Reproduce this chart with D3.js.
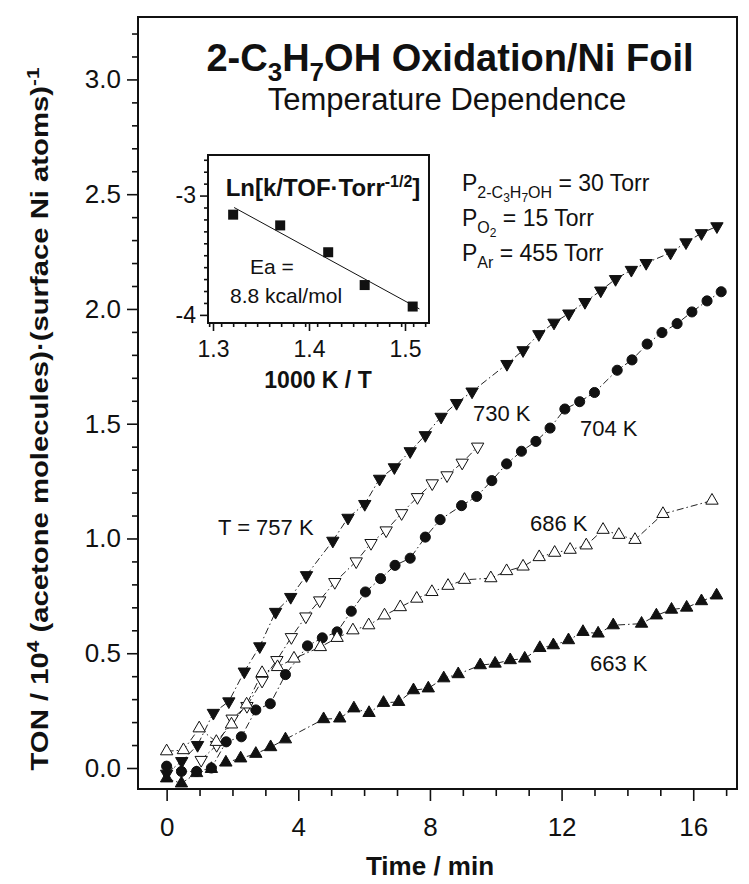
<!DOCTYPE html>
<html lang="en">
<head>
<meta charset="UTF-8">
<title>2-C3H7OH Oxidation / Ni Foil</title>
<script src="https://d3js.org/d3.v7.min.js"></script>
<style>
  body { margin: 0; background: #fff; }
  svg text { font-family: "Liberation Sans", Arial, Helvetica, sans-serif; fill: #111; }
</style>
</head>
<body>
<svg id="chart" width="749" height="884"></svg>
<script>
// ---- main panel data: time (min) and TON / 10^4 ----
const t757 = [0, 0.46, 0.94, 1.42, 1.89, 2.36, 2.83, 3.31, 3.77, 4.25, 5.05, 5.51, 6.02, 6.47, 6.92, 7.40, 7.86, 8.34, 8.81, 9.28, 10.34, 10.83, 11.31, 11.77, 12.22, 12.71, 13.19, 13.64, 14.12, 14.57, 15.31, 15.78, 16.25, 16.72];
const v757 = [-0.025, 0.03, 0.10, 0.24, 0.29, 0.42, 0.53, 0.68, 0.745, 0.84, 0.99, 1.09, 1.15, 1.26, 1.31, 1.38, 1.45, 1.53, 1.59, 1.64, 1.76, 1.82, 1.89, 1.94, 1.98, 2.03, 2.08, 2.13, 2.17, 2.20, 2.245, 2.29, 2.33, 2.36];

const t730 = [1.05, 1.52, 1.99, 2.44, 2.90, 3.35, 3.79, 4.23, 4.65, 5.11, 5.76, 6.21, 6.67, 7.14, 7.62, 8.07, 8.52, 8.98, 9.45];
const v730 = [0.035, 0.10, 0.215, 0.27, 0.38, 0.47, 0.57, 0.66, 0.73, 0.81, 0.90, 0.98, 1.035, 1.11, 1.18, 1.24, 1.275, 1.33, 1.40];

const t704 = [0, 0.45, 0.91, 1.36, 1.81, 2.27, 2.71, 3.15, 3.61, 4.28, 4.73, 5.18, 5.61, 6.04, 6.50, 6.94, 7.40, 7.86, 8.31, 8.96, 9.42, 9.88, 10.33, 10.78, 11.22, 11.65, 12.10, 12.55, 13.00, 13.69, 14.14, 14.60, 15.05, 15.51, 15.96, 16.42, 16.85];
const v704 = [0.008, -0.015, -0.015, 0.0, 0.114, 0.136, 0.253, 0.28, 0.407, 0.532, 0.567, 0.593, 0.683, 0.767, 0.825, 0.883, 0.914, 1.006, 1.082, 1.143, 1.183, 1.252, 1.325, 1.38, 1.423, 1.481, 1.564, 1.596, 1.636, 1.733, 1.778, 1.847, 1.897, 1.936, 1.987, 2.035, 2.075];

const t686 = [0, 0.51, 0.99, 1.51, 1.97, 2.43, 2.90, 3.37, 3.87, 4.67, 5.18, 5.66, 6.14, 6.62, 7.10, 7.60, 8.06, 8.55, 9.05, 9.85, 10.33, 10.83, 11.32, 11.79, 12.26, 12.75, 13.26, 13.74, 14.23, 15.08, 16.57];
const v686 = [0.073, 0.078, 0.173, 0.114, 0.19, 0.277, 0.414, 0.44, 0.477, 0.527, 0.567, 0.60, 0.622, 0.665, 0.701, 0.738, 0.767, 0.794, 0.82, 0.827, 0.858, 0.878, 0.919, 0.938, 0.951, 0.97, 1.038, 1.016, 0.994, 1.107, 1.165];

const t663 = [0, 0.45, 0.91, 1.36, 1.80, 2.25, 2.71, 3.16, 3.61, 4.77, 5.26, 5.69, 6.15, 6.59, 7.05, 7.50, 7.95, 8.42, 8.86, 9.53, 9.98, 10.44, 10.88, 11.34, 11.75, 12.21, 12.65, 13.11, 13.57, 14.43, 14.88, 15.34, 15.80, 16.25, 16.71];
const v663 = [-0.045, -0.067, -0.022, -0.004, 0.024, 0.042, 0.062, 0.091, 0.125, 0.213, 0.216, 0.26, 0.24, 0.284, 0.288, 0.339, 0.347, 0.391, 0.409, 0.448, 0.455, 0.47, 0.477, 0.523, 0.535, 0.557, 0.593, 0.586, 0.622, 0.629, 0.665, 0.69, 0.699, 0.727, 0.752];

// ---- inset (Arrhenius plot) data ----
const invT = [1.321, 1.370, 1.420, 1.458, 1.508];
const lnK = [-3.16, -3.25, -3.475, -3.75, -3.93];
const fitX = [1.322, 1.515];
const fitY = [-3.10, -3.95];

const xMajor = [0, 4, 8, 12, 16];
const yMajor = [0, 0.5, 1.0, 1.5, 2.0, 2.5, 3.0];
const insetXMajor = [1.3, 1.4, 1.5];
const insetYMajor = [-3, -4];

const svg = d3.select('#chart');
svg.append('rect').attr('width', 749).attr('height', 884).attr('fill', '#fff');

const x = d3.scaleLinear().domain([-0.87, 17.33]).range([138, 737]);
const y = d3.scaleLinear().domain([-0.0915, 3.272]).range([789, 17]);

// minor ticks
const xMinor = d3.range(0, 18, 1).filter(d => xMajor.indexOf(d) < 0);
const yMinor = d3.range(-1, 33, 1).map(d => d / 10).filter(d => Math.abs(d * 2 - Math.round(d * 2)) > 0.01 && d < 3.27 && d > -0.09);

function styleAxis(g) {
  g.select('.domain').remove();
  g.selectAll('.tick line').attr('stroke', '#111').attr('stroke-width', 1.6);
}

svg.append('g').attr('transform', 'translate(0,789)')
  .call(d3.axisBottom(x).tickValues(xMinor).tickSize(7).tickFormat(''))
  .call(styleAxis);
svg.append('g').attr('transform', 'translate(0,789)')
  .call(d3.axisBottom(x).tickValues(xMajor).tickSize(12).tickPadding(17).tickFormat(d3.format('d')))
  .call(styleAxis)
  .selectAll('text').attr('font-size', 26).attr('fill', '#111');

svg.append('g').attr('transform', 'translate(138,0)')
  .call(d3.axisLeft(y).tickValues(yMinor).tickSize(6).tickFormat(''))
  .call(styleAxis);
svg.append('g').attr('transform', 'translate(138,0)')
  .call(d3.axisLeft(y).tickValues(yMajor).tickSize(11).tickPadding(6).tickFormat(d3.format('.1f')))
  .call(styleAxis)
  .selectAll('text').attr('font-size', 26).attr('fill', '#111');

// frame
svg.append('rect').attr('x', x.range()[0]).attr('y', y.range()[1])
  .attr('width', x.range()[1] - x.range()[0]).attr('height', y.range()[0] - y.range()[1])
  .attr('fill', 'none').attr('stroke', '#111').attr('stroke-width', 2);

// axis titles
svg.append('text').attr('x', 430).attr('y', 875).attr('text-anchor', 'middle')
  .attr('font-size', 26).attr('font-weight', 'bold').text('Time / min');

const yl = svg.append('text').attr('transform', 'translate(48,419) rotate(-90) scale(1.22,1)')
  .attr('text-anchor', 'middle').attr('font-size', 24).attr('font-weight', 'bold');
yl.append('tspan').text('TON / 10');
yl.append('tspan').attr('dy', -9).attr('font-size', 17).text('4');
yl.append('tspan').attr('dy', 9).text(' (acetone molecules)\u00b7(surface Ni atoms)');
yl.append('tspan').attr('dy', -9).attr('font-size', 17).text('-1');

// series
const series = [
  { t: t757, v: v757, shape: 'down', fill: '#111' },
  { t: t730, v: v730, shape: 'down', fill: '#fff' },
  { t: t704, v: v704, shape: 'circle', fill: '#111' },
  { t: t686, v: v686, shape: 'up', fill: '#fff' },
  { t: t663, v: v663, shape: 'up', fill: '#111' }
];

const line = d3.line().x(d => x(d[0])).y(d => y(d[1]));
const tri = d3.symbol().type(d3.symbolTriangle).size(66);
const circ = d3.symbol().type(d3.symbolCircle).size(80);

series.forEach(s => {
  const pts = s.t.map((t, i) => [t, s.v[i]]);
  svg.append('path').datum(pts).attr('d', line)
    .attr('fill', 'none').attr('stroke', '#222').attr('stroke-width', 1)
    .attr('stroke-dasharray', '7,3,1.5,3');
});
series.forEach(s => {
  const pts = s.t.map((t, i) => [t, s.v[i]]);
  svg.append('g').selectAll('path').data(pts).join('path')
    .attr('d', s.shape === 'circle' ? circ : tri)
    .attr('transform', d => `translate(${x(d[0])},${y(d[1])})` + (s.shape === 'down' ? ' rotate(180)' : ''))
    .attr('fill', s.fill).attr('stroke', '#111').attr('stroke-width', 1);
});

// series labels
const lab = [
  ['T = 757 K', 218, 535], ['730 K', 473, 421], ['704 K', 580, 436],
  ['686 K', 530, 531], ['663 K', 590, 671]
];
svg.append('g').selectAll('text').data(lab).join('text')
  .attr('x', d => d[1]).attr('y', d => d[2]).attr('font-size', 22).text(d => d[0]);

// title
const title = svg.append('text').attr('x', 450).attr('y', 71).attr('text-anchor', 'middle')
  .attr('font-size', 38).attr('font-weight', 'bold');
title.append('tspan').text('2-C');
title.append('tspan').attr('dy', 10).attr('font-size', 26).text('3');
title.append('tspan').attr('dy', -10).text('H');
title.append('tspan').attr('dy', 10).attr('font-size', 26).text('7');
title.append('tspan').attr('dy', -10).text('OH Oxidation/Ni Foil');
svg.append('text').attr('x', 447).attr('y', 110).attr('text-anchor', 'middle')
  .attr('font-size', 31).text('Temperature Dependence');

// conditions
const cond = svg.append('g').attr('font-size', 23);
const c1 = cond.append('text').attr('x', 462).attr('y', 191);
c1.append('tspan').text('P');
c1.append('tspan').attr('dy', 7).attr('font-size', 16).text('2-C');
c1.append('tspan').attr('dy', 4).attr('font-size', 12).text('3');
c1.append('tspan').attr('dy', -4).attr('font-size', 16).text('H');
c1.append('tspan').attr('dy', 4).attr('font-size', 12).text('7');
c1.append('tspan').attr('dy', -4).attr('font-size', 16).text('OH');
c1.append('tspan').attr('dy', -7).text(' = 30 Torr');
const c2 = cond.append('text').attr('x', 462).attr('y', 226);
c2.append('tspan').text('P');
c2.append('tspan').attr('dy', 7).attr('font-size', 16).text('O');
c2.append('tspan').attr('dy', 4).attr('font-size', 12).text('2');
c2.append('tspan').attr('dy', -11).text(' = 15 Torr');
const c3 = cond.append('text').attr('x', 462).attr('y', 261);
c3.append('tspan').text('P');
c3.append('tspan').attr('dy', 7).attr('font-size', 16).text('Ar');
c3.append('tspan').attr('dy', -7).text(' = 455 Torr');

// ---- inset ----
const ix = d3.scaleLinear().domain([1.2948, 1.525]).range([208, 429]);
const iy = d3.scaleLinear().domain([-4.068, -2.66]).range([323, 155]);
const inset = svg.append('g');
inset.append('rect').attr('x', 208).attr('y', 155).attr('width', 221).attr('height', 168)
  .attr('fill', '#fff').attr('stroke', '#111').attr('stroke-width', 2);

const ixMinor = d3.range(1296, 1525, 12.5).map(d => d / 1000);
const iyMinor = d3.range(-40, -26, 1).map(d => d / 10).filter(d => insetYMajor.indexOf(d) < 0);
inset.append('g').attr('transform', 'translate(0,323)')
  .call(d3.axisBottom(ix).tickValues(ixMinor.filter(d => Math.abs(d * 10 - Math.round(d * 10)) > 0.01)).tickSize(4).tickFormat(''))
  .call(styleAxis);
inset.append('g').attr('transform', 'translate(0,323)')
  .call(d3.axisBottom(ix).tickValues(insetXMajor).tickSize(8).tickPadding(10).tickFormat(d3.format('.1f')))
  .call(styleAxis)
  .selectAll('text').attr('font-size', 23).attr('fill', '#111');
inset.append('g').attr('transform', 'translate(208,0)')
  .call(d3.axisLeft(iy).tickValues(iyMinor).tickSize(4).tickFormat(''))
  .call(styleAxis);
inset.append('g').attr('transform', 'translate(208,0)')
  .call(d3.axisLeft(iy).tickValues(insetYMajor).tickSize(8).tickPadding(4).tickFormat(d => String(d)))
  .call(styleAxis)
  .selectAll('text').attr('font-size', 23).attr('fill', '#111');

inset.append('path').datum(fitX.map((d, i) => [d, fitY[i]]))
  .attr('d', d3.line().x(d => ix(d[0])).y(d => iy(d[1])))
  .attr('stroke', '#111').attr('stroke-width', 1).attr('fill', 'none');
inset.append('g').selectAll('rect').data(invT.map((d, i) => [d, lnK[i]])).join('rect')
  .attr('x', d => ix(d[0]) - 5).attr('y', d => iy(d[1]) - 5)
  .attr('width', 10).attr('height', 10).attr('fill', '#111');

const it = inset.append('text').attr('x', 323).attr('y', 196).attr('text-anchor', 'middle')
  .attr('font-size', 24).attr('font-weight', 'bold');
it.append('tspan').text('Ln[k/TOF\u00b7Torr');
it.append('tspan').attr('dy', -9).attr('font-size', 16).text('-1/2');
it.append('tspan').attr('dy', 9).text(']');
inset.append('text').attr('x', 250).attr('y', 274).attr('font-size', 21).text('Ea =');
inset.append('text').attr('x', 230).attr('y', 303).attr('font-size', 21).text('8.8 kcal/mol');
inset.append('text').attr('x', 318).attr('y', 388).attr('text-anchor', 'middle')
  .attr('font-size', 23).attr('font-weight', 'bold').text('1000 K / T');
</script>
</body>
</html>
